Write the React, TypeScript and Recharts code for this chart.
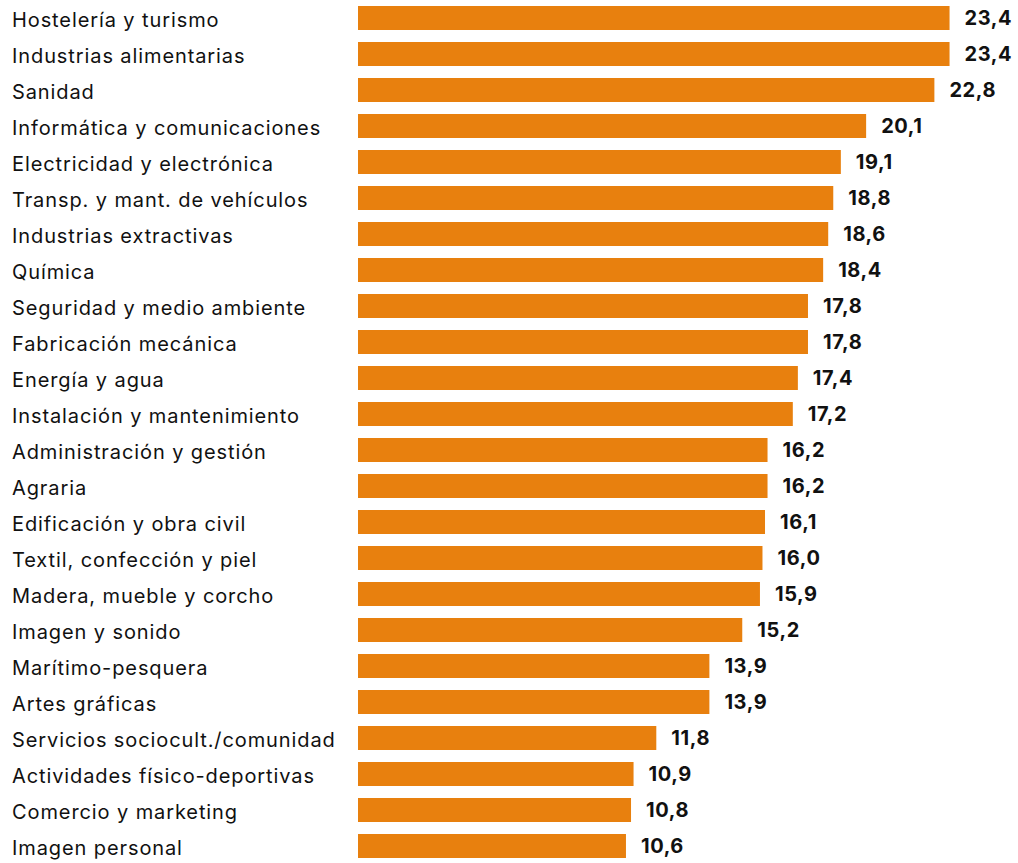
import { BarChart, Bar, XAxis, YAxis, LabelList } from "recharts";

// familias profesionales
const familias = [
  "Hostelería y turismo",
  "Industrias alimentarias",
  "Sanidad",
  "Informática y comunicaciones",
  "Electricidad y electrónica",
  "Transp. y mant. de vehículos",
  "Industrias extractivas",
  "Química",
  "Seguridad y medio ambiente",
  "Fabricación mecánica",
  "Energía y agua",
  "Instalación y mantenimiento",
  "Administración y gestión",
  "Agraria",
  "Edificación y obra civil",
  "Textil, confección y piel",
  "Madera, mueble y corcho",
  "Imagen y sonido",
  "Marítimo-pesquera",
  "Artes gráficas",
  "Servicios sociocult./comunidad",
  "Actividades físico-deportivas",
  "Comercio y marketing",
  "Imagen personal",
];

const valores = [
  23.4, 23.4, 22.8, 20.1, 19.1, 18.8, 18.6, 18.4, 17.8, 17.8, 17.4, 17.2,
  16.2, 16.2, 16.1, 16.0, 15.9, 15.2, 13.9, 13.9, 11.8, 10.9, 10.8, 10.6,
];

const data = familias.map((name, i) => ({ name, value: valores[i] }));

const FONT = "Inter, sans-serif";

const fmt = (v: any) => Number(v).toFixed(1).replace(".", ",");

function CategoryTick(props: any) {
  const { y, payload } = props;
  return (
    <text
      x={12}
      y={y}
      dy={9}
      textAnchor="start"
      fontFamily={FONT}
      fontSize={20}
      letterSpacing={0.9}
      fill="#111"
    >
      {payload.value}
    </text>
  );
}

export default function App() {
  return (
    <div style={{ position: "absolute", left: 0, top: 0, background: "#fff" }}>
      <BarChart
        width={1018}
        height={864}
        data={data}
        layout="vertical"
        margin={{ top: 0, right: 28, bottom: 0, left: 0 }}
      >
        <XAxis type="number" domain={[0, 25]} hide />
        <YAxis
          type="category"
          dataKey="name"
          width={358}
          axisLine={false}
          tickLine={false}
          tick={<CategoryTick />}
          interval={0}
        />
        <Bar dataKey="value" fill="#E8800E" barSize={24} isAnimationActive={false}>
          <LabelList
            dataKey="value"
            position="right"
            offset={15}
            formatter={fmt}
            style={{ fontFamily: FONT, fontSize: 20, fontWeight: 700, letterSpacing: 0.6, fill: "#111" }}
          />
        </Bar>
      </BarChart>
    </div>
  );
}
